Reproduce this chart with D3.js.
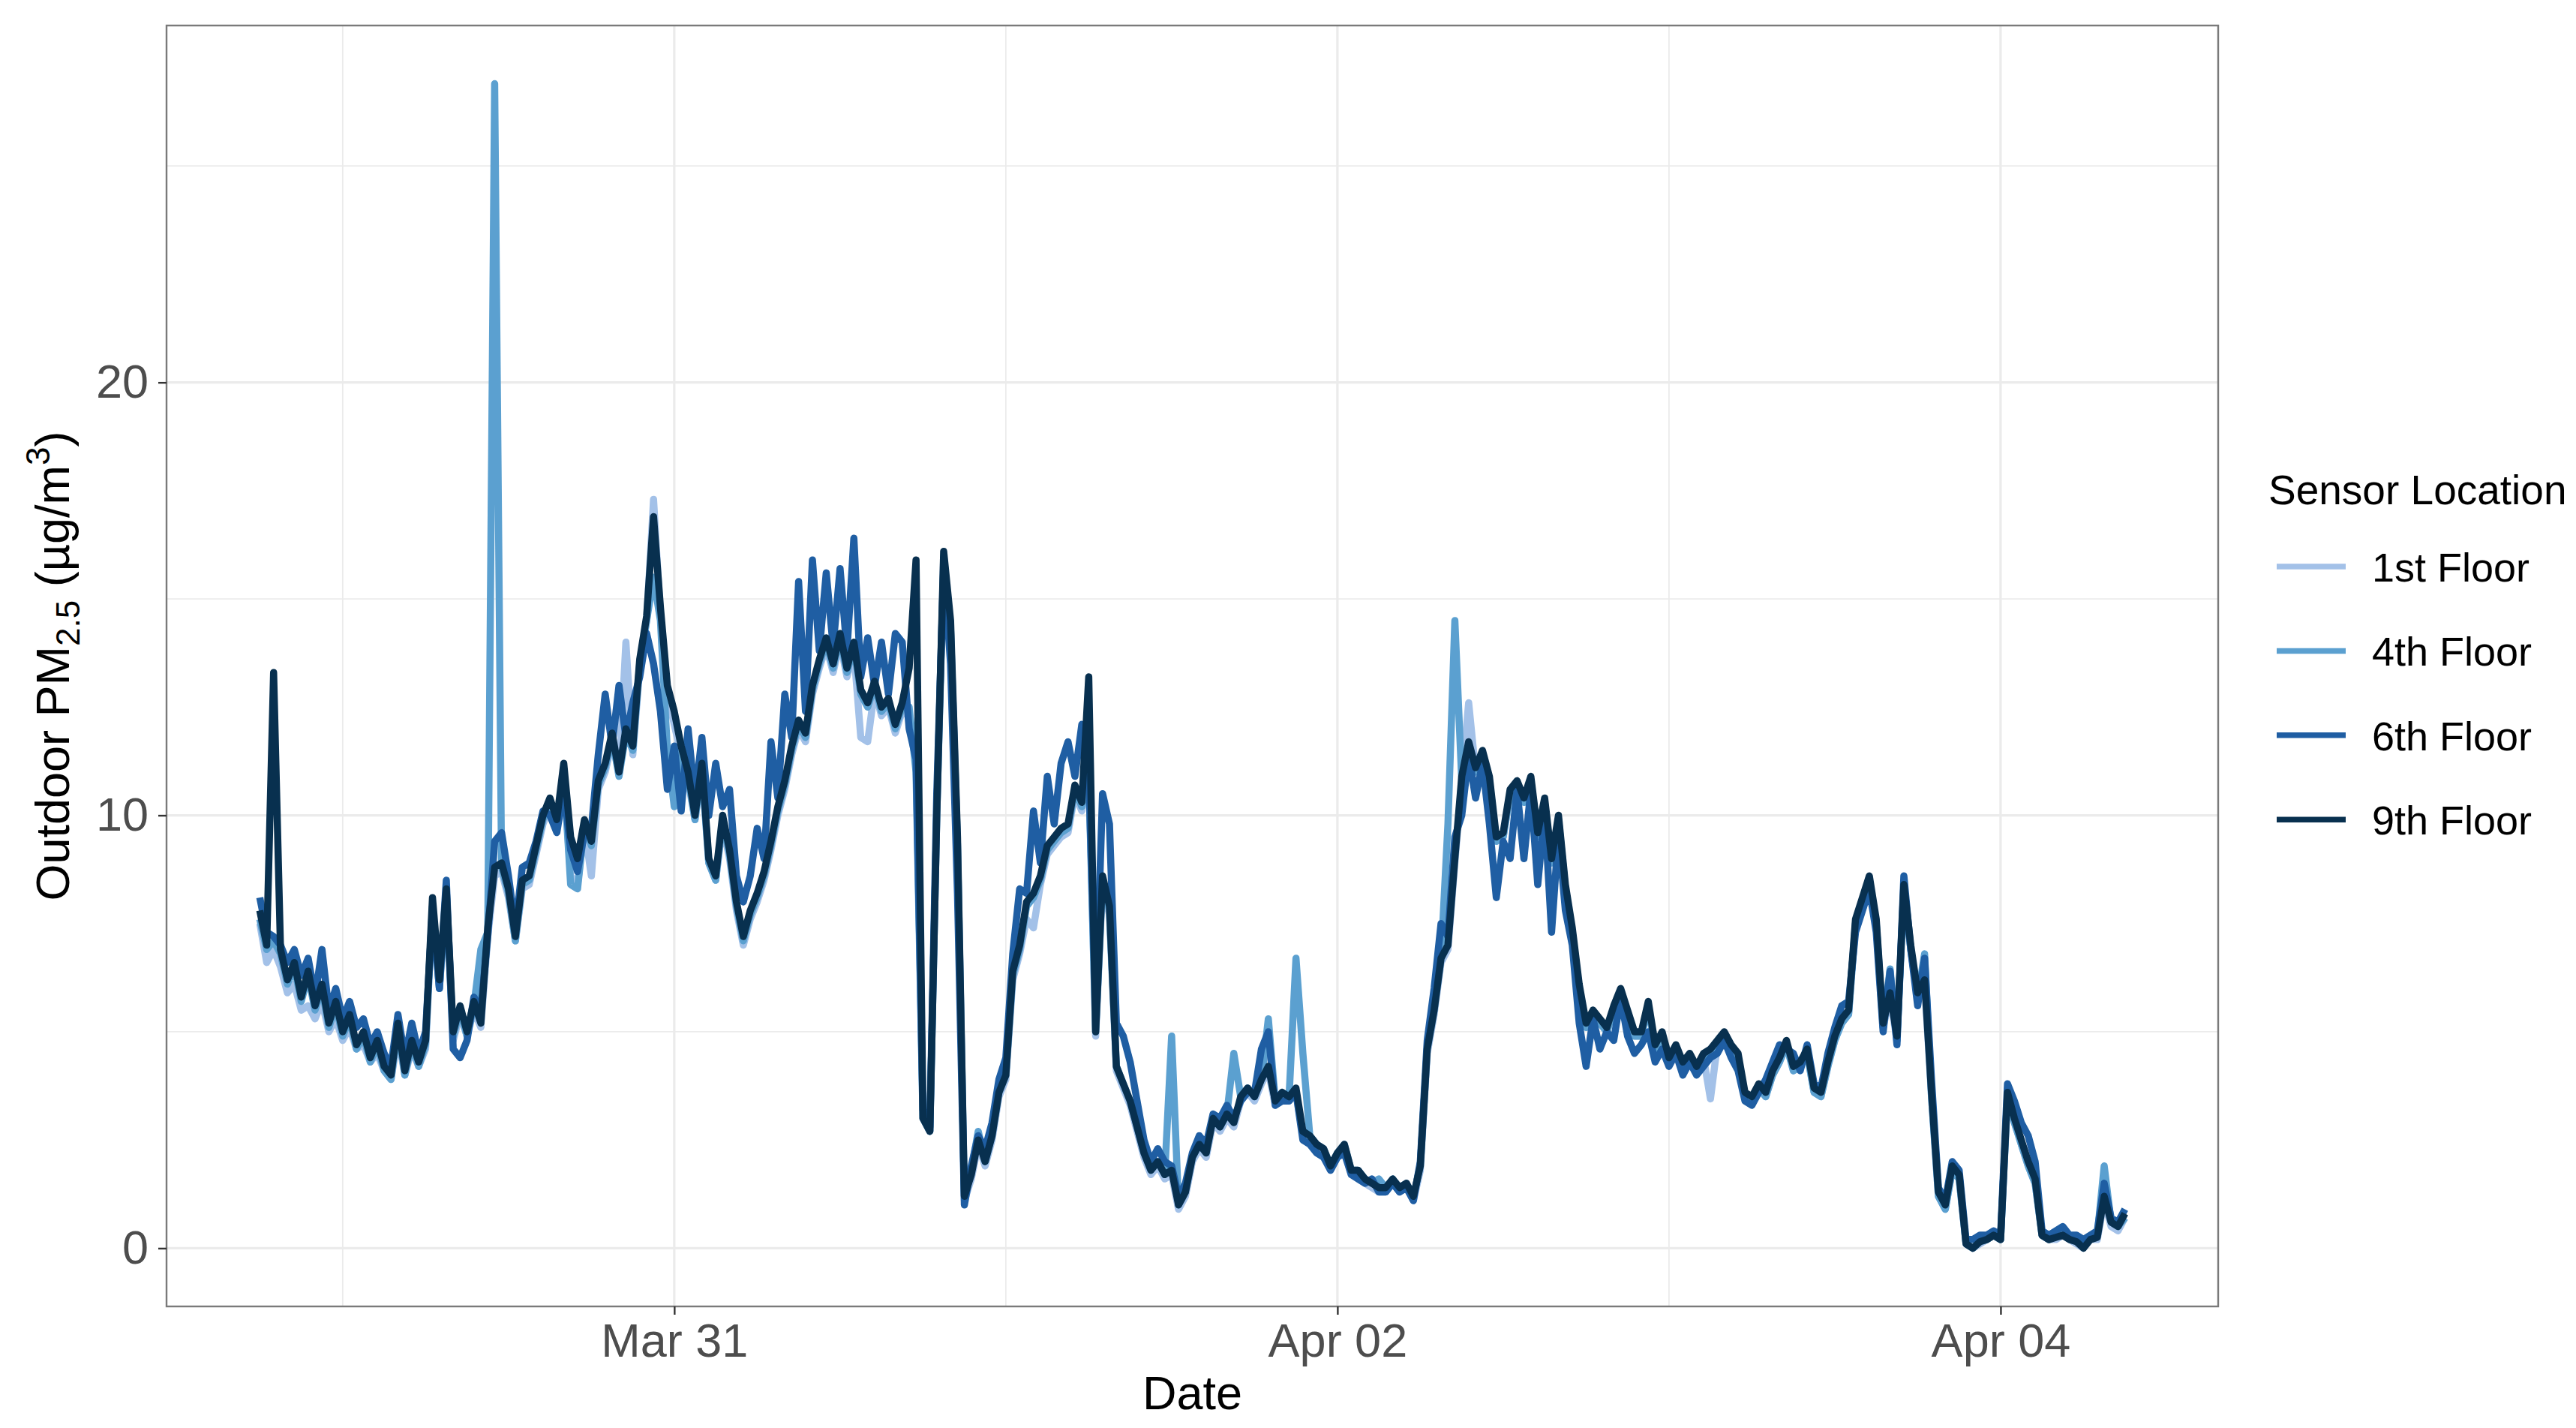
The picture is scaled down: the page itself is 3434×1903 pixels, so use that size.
<!DOCTYPE html>
<html>
<head>
<meta charset="utf-8">
<script src="https://cdn.jsdelivr.net/npm/d3@7"></script>
<style>
  body { margin: 0; background: #fff; }
  text { font-family: "Liberation Sans", Arial, Helvetica, sans-serif; }
</style>
</head>
<body>
<div id="chart"></div>
<script>
// Series names and colours (legend order, drawn bottom to top)
const floors = ["1st Floor", "4th Floor", "6th Floor", "9th Floor"];
const floorColors = ["#a3c1e8", "#5ba0d0", "#1f5ea3", "#08304f"];

// Readings every 30 minutes, starting Mar 29 18:00
const startTime = "2021-03-29T18:00:00Z";
const stepMinutes = 30;

const floor1 = [
  7.5, 6.6, 6.9, 6.5, 5.9, 6.1, 5.5, 5.6, 5.3, 5.7,
  5.0, 5.3, 4.8, 5.1, 4.6, 4.7, 4.3, 4.5, 4.1, 3.9,
  4.9, 4.0, 4.6, 4.2, 4.6, 7.9, 6.0, 8.1, 4.8, 5.4,
  4.9, 5.5, 5.1, 7.2, 8.6, 8.7, 8.1, 7.1, 8.3, 8.4,
  9.1, 9.8, 10.2, 9.7, 10.9, 8.6, 8.4, 9.7, 8.6, 10.6,
  11.0, 11.7, 11.0, 14.0, 11.4, 13.4, 14.5, 17.3, 14.6, 12.8,
  12.1, 11.4, 10.8, 9.9, 11.0, 8.9, 8.5, 9.8, 9.0, 7.8,
  7.0, 7.6, 8.0, 8.5, 9.2, 10.0, 10.6, 11.4, 12.0, 11.7,
  12.8, 13.4, 13.9, 13.3, 14.0, 13.2, 13.8, 11.8, 11.7, 12.9,
  12.3, 12.5, 11.9, 12.4, 12.3, 11.5, 3.0, 2.7, 10.0, 16.0,
  14.3, 9.3, 1.1, 1.6, 2.4, 1.9, 2.5, 3.5, 3.9, 6.2,
  6.8, 7.6, 7.4, 8.4, 9.1, 9.3, 9.5, 9.6, 10.5, 10.1,
  11.0, 4.9, 8.4, 7.7, 4.1, 3.7, 3.3, 2.7, 2.1, 1.7,
  1.9, 1.6, 1.7, 0.9, 1.2, 2.0, 2.3, 2.1, 2.9, 2.7,
  3.0, 2.8, 3.4, 3.6, 3.4, 3.8, 4.1, 3.3, 3.5, 3.4,
  3.6, 2.6, 2.5, 2.3, 2.2, 1.8, 2.1, 2.3, 1.7, 1.7,
  1.5, 1.4, 1.3, 1.3, 1.5, 1.3, 1.4, 1.1, 1.8, 4.5,
  5.4, 6.6, 6.9, 8.9, 10.8, 12.6, 11.0, 11.4, 10.8, 9.4,
  9.5, 10.5, 10.7, 10.3, 10.8, 9.5, 10.3, 8.9, 9.9, 8.3,
  7.3, 6.0, 5.1, 5.4, 5.2, 5.0, 5.5, 5.9, 5.4, 4.9,
  4.9, 5.6, 4.6, 4.9, 4.3, 4.6, 4.2, 4.4, 4.1, 4.4,
  3.45, 4.7, 4.9, 4.6, 4.4, 3.5, 3.4, 3.7, 3.5, 4.0,
  4.3, 4.7, 4.1, 4.2, 4.5, 3.6, 3.5, 4.2, 4.8, 5.2,
  5.4, 7.5, 8.0, 8.5, 7.5, 5.1, 5.8, 4.8, 8.3, 6.9,
  5.8, 6.1, 3.5, 1.2, 0.9, 1.8, 1.6, 0.1, 0.0, 0.1,
  0.2, 0.3, 0.2, 3.5, 2.9, 2.4, 1.9, 1.5, 0.3, 0.2,
  0.2, 0.3, 0.2, 0.1, 0.0, 0.2, 0.2, 1.1, 0.5, 0.4,
  0.7
];

const floor4 = [
  7.6, 6.9, 7.1, 6.8, 6.1, 6.5, 5.7, 6.3, 5.5, 6.0,
  5.1, 5.6, 4.9, 5.3, 4.6, 4.9, 4.3, 4.7, 4.1, 3.9,
  5.1, 4.0, 4.7, 4.2, 4.7, 7.9, 6.0, 8.2, 4.9, 5.5,
  4.9, 5.6, 6.9, 7.3, 26.9, 8.8, 8.2, 7.1, 8.4, 8.5,
  9.2, 9.9, 10.3, 9.8, 11.0, 8.4, 8.3, 9.8, 9.3, 10.7,
  11.1, 11.8, 10.9, 11.9, 11.5, 13.5, 14.5, 15.5, 14.5, 11.5,
  10.2, 11.5, 10.9, 9.9, 11.1, 8.9, 8.5, 9.9, 9.1, 7.9,
  7.1, 7.7, 8.1, 8.6, 9.3, 10.1, 10.7, 11.5, 12.1, 11.8,
  12.9, 13.5, 14.0, 13.4, 14.1, 13.3, 13.9, 12.8, 12.5, 13.0,
  12.4, 12.6, 12.0, 12.5, 12.5, 11.0, 3.0, 2.7, 10.0, 15.8,
  14.3, 9.3, 1.2, 1.8, 2.7, 2.0, 2.6, 3.6, 4.0, 6.3,
  6.9, 7.9, 8.1, 8.5, 9.2, 9.4, 9.6, 9.7, 10.6, 10.2,
  11.0, 5.0, 8.5, 7.8, 4.2, 3.8, 3.4, 2.8, 2.2, 1.8,
  2.0, 1.7, 4.9, 1.0, 1.3, 2.1, 2.4, 2.2, 3.0, 2.8,
  3.1, 4.5, 3.5, 3.7, 3.5, 3.9, 5.3, 3.4, 3.6, 3.5,
  6.7, 4.5, 2.6, 2.4, 2.3, 1.9, 2.2, 2.4, 1.8, 1.8,
  1.6, 1.5, 1.6, 1.4, 1.6, 1.4, 1.5, 1.2, 1.9, 4.6,
  5.5, 6.7, 9.8, 14.5, 10.8, 11.6, 11.0, 11.4, 10.8, 9.4,
  9.5, 10.5, 10.7, 10.3, 10.8, 9.5, 10.3, 8.9, 9.9, 8.3,
  7.3, 6.0, 5.1, 5.4, 5.2, 5.0, 5.5, 5.9, 5.4, 4.9,
  4.9, 5.6, 4.6, 4.9, 4.3, 4.6, 4.2, 4.4, 4.1, 4.4,
  4.5, 4.7, 4.9, 4.6, 4.4, 3.5, 3.4, 3.7, 3.5, 4.0,
  4.3, 4.7, 4.1, 4.2, 4.5, 3.6, 3.5, 4.2, 4.8, 5.2,
  5.4, 7.5, 8.0, 8.5, 7.5, 5.1, 6.45, 4.8, 8.3, 6.9,
  5.8, 6.8, 3.5, 1.2, 0.9, 1.8, 1.6, 0.1, 0.0, 0.15,
  0.2, 0.3, 0.2, 3.5, 2.9, 2.4, 1.9, 1.5, 0.3, 0.2,
  0.3, 0.4, 0.3, 0.2, 0.1, 0.2, 0.3, 1.9, 0.6, 0.5,
  0.7
];

const floor6 = [
  8.1, 7.3, 7.2, 7.0, 6.6, 6.9, 6.3, 6.7, 5.8, 6.9,
  5.5, 6.0, 5.3, 5.7, 5.1, 5.3, 4.7, 5.0, 4.5, 4.2,
  5.4, 4.4, 5.2, 4.5, 5.0, 7.8, 6.0, 8.5, 4.6, 4.4,
  4.8, 5.8, 5.5, 7.2, 9.4, 9.6, 8.6, 7.4, 8.8, 8.9,
  9.4, 10.1, 10.0, 9.6, 10.6, 9.2, 8.7, 9.6, 9.7, 11.4,
  12.8, 11.6, 13.0, 11.8, 12.6, 13.2, 14.2, 13.5, 12.4, 10.6,
  11.6, 10.1, 12.0, 10.4, 11.8, 10.0, 11.2, 10.2, 10.6, 8.6,
  8.0, 8.6, 9.7, 9.0, 11.7, 10.4, 12.8, 11.8, 15.4, 12.4,
  15.9, 13.8, 15.6, 13.9, 15.7, 13.8, 16.4, 13.2, 14.1, 13.0,
  14.0, 12.8, 14.2, 14.0, 12.0, 11.3, 3.2, 2.8, 10.5, 15.7,
  13.5, 8.2, 1.0, 1.9, 2.6, 2.3, 2.9, 3.9, 4.4, 6.8,
  8.3, 8.2, 10.1, 8.9, 10.9, 9.8, 11.2, 11.7, 10.9, 12.1,
  11.0, 5.5, 10.5, 9.8, 5.2, 4.9, 4.3, 3.4, 2.5, 2.0,
  2.3, 2.0, 1.9, 1.2, 1.5, 2.2, 2.6, 2.4, 3.1, 3.0,
  3.3, 3.0, 3.4, 3.6, 3.6, 4.6, 5.0, 3.3, 3.4, 3.4,
  3.6, 2.5, 2.4, 2.2, 2.1, 1.8, 2.1, 2.2, 1.7, 1.6,
  1.5, 1.6, 1.3, 1.3, 1.5, 1.3, 1.4, 1.1, 2.0, 4.8,
  6.0, 7.5, 7.2, 9.5, 10.0, 11.4, 10.4, 11.2, 9.8, 8.1,
  9.4, 9.0, 10.6, 9.0, 10.6, 8.4, 10.1, 7.3, 9.6, 7.8,
  7.0, 5.2, 4.2, 5.3, 4.6, 5.0, 4.8, 5.8, 4.9, 4.5,
  4.7, 5.0, 4.3, 4.6, 4.2, 4.5, 4.0, 4.3, 4.0, 4.2,
  4.4, 4.5, 4.8, 4.4, 4.1, 3.4, 3.3, 3.6, 3.9, 4.3,
  4.7, 4.6, 4.5, 4.1, 4.7, 3.8, 3.7, 4.5, 5.1, 5.6,
  5.7, 7.3, 7.8, 8.3, 7.3, 5.0, 6.4, 4.7, 8.6, 6.9,
  5.6, 6.7, 3.9, 1.4, 1.1, 2.0, 1.8, 0.2, 0.2, 0.3,
  0.3, 0.4, 0.3, 3.8, 3.4, 2.9, 2.6, 2.0, 0.4, 0.3,
  0.4, 0.5, 0.3, 0.3, 0.2, 0.3, 0.4, 1.5, 0.7, 0.6,
  0.9
];

const floor9 = [
  7.8, 7.0, 13.3, 6.9, 6.2, 6.6, 5.8, 6.4, 5.6, 6.1,
  5.2, 5.7, 5.0, 5.4, 4.7, 5.0, 4.4, 4.8, 4.2, 4.0,
  5.2, 4.1, 4.8, 4.3, 4.8, 8.1, 6.2, 8.3, 5.0, 5.6,
  5.0, 5.7, 5.2, 7.4, 8.8, 8.9, 8.3, 7.2, 8.5, 8.6,
  9.3, 10.0, 10.4, 9.9, 11.2, 9.5, 9.0, 9.9, 9.4, 10.8,
  11.2, 11.9, 11.0, 12.0, 11.6, 13.6, 14.6, 16.9, 14.8, 13.0,
  12.4, 11.6, 11.0, 10.0, 11.2, 9.0, 8.6, 10.0, 9.2, 8.0,
  7.2, 7.8, 8.2, 8.7, 9.4, 10.2, 10.8, 11.6, 12.2, 11.9,
  13.0, 13.6, 14.1, 13.5, 14.2, 13.4, 14.0, 12.9, 12.6, 13.1,
  12.5, 12.7, 12.1, 12.6, 13.4, 15.9, 3.0, 2.7, 10.0, 16.1,
  14.5, 9.5, 1.2, 1.7, 2.5, 2.0, 2.6, 3.6, 4.0, 6.4,
  7.0, 8.0, 8.2, 8.6, 9.3, 9.5, 9.7, 9.8, 10.7, 10.3,
  13.2, 5.0, 8.6, 7.9, 4.2, 3.8, 3.4, 2.8, 2.2, 1.8,
  2.0, 1.7, 1.8, 1.0, 1.3, 2.1, 2.4, 2.2, 3.0, 2.8,
  3.1, 2.9, 3.5, 3.7, 3.5, 3.9, 4.2, 3.4, 3.6, 3.5,
  3.7, 2.7, 2.6, 2.4, 2.3, 1.9, 2.2, 2.4, 1.8, 1.8,
  1.6, 1.5, 1.4, 1.4, 1.6, 1.4, 1.5, 1.2, 1.9, 4.6,
  5.5, 6.7, 7.0, 9.0, 10.9, 11.7, 11.1, 11.5, 10.9, 9.5,
  9.6, 10.6, 10.8, 10.4, 10.9, 9.6, 10.4, 9.0, 10.0, 8.4,
  7.4, 6.1, 5.2, 5.5, 5.3, 5.1, 5.6, 6.0, 5.5, 5.0,
  5.0, 5.7, 4.7, 5.0, 4.4, 4.7, 4.3, 4.5, 4.2, 4.5,
  4.6, 4.8, 5.0, 4.7, 4.5, 3.6, 3.5, 3.8, 3.6, 4.1,
  4.4, 4.8, 4.2, 4.3, 4.6, 3.7, 3.6, 4.3, 4.9, 5.3,
  5.5, 7.6, 8.1, 8.6, 7.6, 5.2, 5.9, 4.9, 8.4, 7.0,
  5.9, 6.2, 3.6, 1.3, 1.0, 1.9, 1.7, 0.1, 0.0, 0.15,
  0.2, 0.3, 0.2, 3.6, 3.0, 2.5, 2.0, 1.6, 0.3, 0.2,
  0.25, 0.3, 0.2, 0.15, 0.0, 0.2, 0.25, 1.2, 0.6, 0.5,
  0.8
];

const xMajorTicks = ["2021-03-31", "2021-04-02", "2021-04-04"];
const xMinorTicks = ["2021-03-30", "2021-04-01", "2021-04-03"];
const yMajorTicks = [0, 10, 20];
const yMinorTicks = [5, 15, 25];

const width = 3434, height = 1903;
const margin = { top: 34, right: 477, bottom: 162, left: 222 };
const pw = width - margin.left - margin.right;
const ph = height - margin.top - margin.bottom;

let svg = d3.select("#chart")
    .append("svg")
    .attr("width", width)
    .attr("height", height);

let g = svg.append("g")
    .attr("transform", `translate(${margin.left},${margin.top})`);

// Build series
let t0 = d3.utcParse("%Y-%m-%dT%H:%M:%SZ")(startTime);
let parseDay = d3.utcParse("%Y-%m-%d");
let seriesValues = [floor1, floor4, floor6, floor9];
let series = floors.map((name, k) => ({
    name: name,
    color: floorColors[k],
    values: seriesValues[k].map((v, i) => ({ date: d3.utcMinute.offset(t0, i * stepMinutes), value: v }))
}));
let all = series.flatMap(s => s.values);

// Scales with 5% padding each side (ggplot style)
let xExt = d3.extent(all, d => d.date);
let xPad = (xExt[1] - xExt[0]) * 0.05;
let xScale = d3.scaleUtc()
    .domain([new Date(+xExt[0] - xPad), new Date(+xExt[1] + xPad)])
    .range([0, pw]);

let yExt = d3.extent(all, d => d.value);
let yPad = (yExt[1] - yExt[0]) * 0.05;
let yScale = d3.scaleLinear()
    .domain([yExt[0] - yPad, yExt[1] + yPad])
    .range([ph, 0]);

// Grid lines
let grid = g.append("g");
grid.selectAll(".ymin").data(yMinorTicks).enter().append("line")
    .attr("x1", 0).attr("x2", pw)
    .attr("y1", d => yScale(d)).attr("y2", d => yScale(d))
    .attr("stroke", "#ebebeb").attr("stroke-width", 1.8);
grid.selectAll(".xmin").data(xMinorTicks.map(parseDay)).enter().append("line")
    .attr("x1", d => xScale(d)).attr("x2", d => xScale(d))
    .attr("y1", 0).attr("y2", ph)
    .attr("stroke", "#ebebeb").attr("stroke-width", 1.8);
grid.selectAll(".ymaj").data(yMajorTicks).enter().append("line")
    .attr("x1", 0).attr("x2", pw)
    .attr("y1", d => yScale(d)).attr("y2", d => yScale(d))
    .attr("stroke", "#ebebeb").attr("stroke-width", 3.2);
grid.selectAll(".xmaj").data(xMajorTicks.map(parseDay)).enter().append("line")
    .attr("x1", d => xScale(d)).attr("x2", d => xScale(d))
    .attr("y1", 0).attr("y2", ph)
    .attr("stroke", "#ebebeb").attr("stroke-width", 3.2);

// Lines
svg.append("defs").append("clipPath").attr("id", "clip")
    .append("rect").attr("width", pw).attr("height", ph);

let line = d3.line()
    .x(d => xScale(d.date))
    .y(d => yScale(d.value));

g.append("g").attr("clip-path", "url(#clip)")
    .selectAll("path")
    .data(series)
    .enter()
    .append("path")
    .attr("fill", "none")
    .attr("stroke", d => d.color)
    .attr("stroke-width", 9.5)
    .attr("stroke-linejoin", "round")
    .attr("d", d => line(d.values));

// Panel border
g.append("rect")
    .attr("width", pw).attr("height", ph)
    .attr("fill", "none")
    .attr("stroke", "#7a7a7a")
    .attr("stroke-width", 2.4);

// Axes
let xAxis = g.append("g")
    .attr("transform", `translate(0,${ph})`)
    .call(d3.axisBottom(xScale)
        .tickValues(xMajorTicks.map(parseDay))
        .tickFormat(d3.utcFormat("%b %d"))
        .tickSize(11)
        .tickPadding(11));

let yAxis = g.append("g")
    .call(d3.axisLeft(yScale)
        .tickValues(yMajorTicks)
        .tickSize(11)
        .tickPadding(13));

[xAxis, yAxis].forEach(a => {
    a.select(".domain").remove();
    a.selectAll(".tick line").attr("stroke", "#333").attr("stroke-width", 2.4);
    a.selectAll(".tick text")
        .attr("fill", "#4d4d4d")
        .style("font-size", "63px")
        .style("font-family", "'Liberation Sans', Arial, sans-serif");
});

// Axis titles
svg.append("text")
    .attr("x", margin.left + pw / 2)
    .attr("y", 1878)
    .attr("text-anchor", "middle")
    .style("font-size", "63px")
    .attr("fill", "#000")
    .text("Date");

let yTitle = svg.append("text")
    .attr("transform", `translate(92,${margin.top + ph / 2}) rotate(-90)`)
    .attr("text-anchor", "middle")
    .style("font-size", "63px")
    .attr("fill", "#000");
yTitle.append("tspan").text("Outdoor PM");
yTitle.append("tspan").attr("dy", 14).style("font-size", "44px").text("2.5");
yTitle.append("tspan").attr("dy", -14).text(" (µg/m");
yTitle.append("tspan").attr("dy", -26).style("font-size", "44px").text("3");
yTitle.append("tspan").attr("dy", 26).text(")");

// Legend
let legend = svg.append("g").attr("transform", "translate(3024,0)");
legend.append("text")
    .attr("x", 0).attr("y", 672)
    .style("font-size", "55px")
    .attr("fill", "#000")
    .text("Sensor Location");

let items = legend.selectAll(".item")
    .data(series)
    .enter()
    .append("g")
    .attr("transform", (d, k) => `translate(0,${755 + k * 112.4})`);

items.append("line")
    .attr("x1", 11).attr("x2", 103)
    .attr("y1", 0).attr("y2", 0)
    .attr("stroke", d => d.color)
    .attr("stroke-width", 7.5);

items.append("text")
    .attr("x", 138).attr("y", 20)
    .style("font-size", "54px")
    .attr("fill", "#000")
    .text(d => d.name);
</script>
</body>
</html>
